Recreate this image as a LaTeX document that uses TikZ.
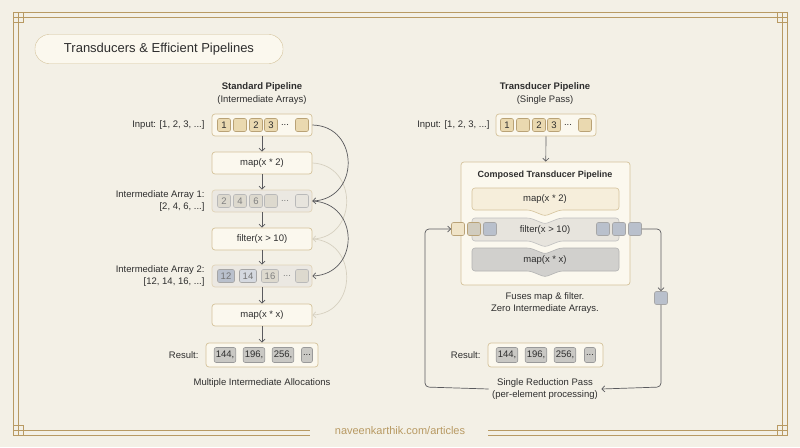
\documentclass[tikz,border=0pt]{standalone}
\usepackage{fontspec}
\setmainfont{Liberation Sans}
\usetikzlibrary{arrows.meta,calc}
\definecolor{bg}{HTML}{F3F0E6}
\definecolor{frame}{HTML}{B89A63}
\definecolor{boxfill}{HTML}{FBF8EE}
\definecolor{boxline}{HTML}{D4C29A}
\definecolor{cellA}{HTML}{EAD9B0}
\definecolor{cellAline}{HTML}{B9A276}
\definecolor{cellG}{HTML}{DDD9CE}
\definecolor{cellB}{HTML}{B9C0CC}
\definecolor{cellR}{HTML}{C9C8C4}
\definecolor{txt}{HTML}{2E2E2E}
\definecolor{arr}{HTML}{5A5A5E}
\definecolor{arrl}{HTML}{D6D0C0}
\tikzset{
 x=1pt,y=-1pt,
 every node/.style={text=txt,font=\fontsize{9.5}{11.5}\selectfont},
 pbox/.style={draw=boxline,fill=boxfill,rounded corners=3pt,line width=0.7pt,minimum width=100pt,minimum height=22pt},
 gbox/.style={draw=boxline!70,fill=cellG!60,rounded corners=3pt,line width=0.7pt,minimum width=100pt,minimum height=22pt},
 cellbox/.style={draw=cellAline,fill=cellA,rounded corners=2pt,minimum size=13pt,inner sep=0pt,line width=0.6pt},
 gcell/.style={draw=gray!55,fill=cellG,rounded corners=2pt,minimum size=13pt,inner sep=0pt,text=gray,line width=0.6pt},
 bcell/.style={draw=gray!70,fill=cellB,rounded corners=2pt,minimum size=13pt,inner sep=0pt,text=gray!90!black,line width=0.6pt},
 rcell/.style={draw=gray!80,fill=cellR,rounded corners=2pt,minimum height=15pt,inner sep=1.5pt,line width=0.6pt},
 lab/.style={anchor=east,align=right},
 dn/.style={-{Straight Barb[length=3pt,width=6pt]},draw=arr,line width=0.7pt},
 ln/.style={draw=arrl,line width=0.7pt,-{Straight Barb[length=3pt,width=6pt]}},
 hd/.style={font=\fontsize{9.5}{11.5}\selectfont\bfseries},
}
\begin{document}
\begin{tikzpicture}
\fill[bg] (0,0) rectangle (800,447);
\useasboundingbox (0,0) rectangle (800,447);
% frame
\draw[frame,line width=0.8pt] (13,12) -- (787,12) (787,12)--(787,435);
\draw[frame,line width=0.8pt] (18,17) -- (782,17) -- (782,430);
\draw[frame,line width=0.8pt] (13,12) -- (13,435) -- (310,435) (488,435) -- (787,435);
\draw[frame,line width=0.8pt] (18,17) -- (18,430) -- (310,430) (488,430) -- (782,430);
\foreach \cx/\cy/\sx/\sy in {13/12/1/1,787/12/-1/1,13/435/1/-1,787/435/-1/-1}
  \draw[frame,line width=0.8pt] (\cx,\cy) rectangle ++(10*\sx,10*\sy) (\cx,\cy) rectangle ++(5*\sx,5*\sy);
\node[text=frame,font=\fontsize{11}{13}\selectfont] (foot) at (400,431) {naveenkarthik.com/articles};
% title
\node[draw=boxline,fill=boxfill,rounded corners=14pt,minimum width=248pt,minimum height=29pt,font=\fontsize{13}{15}\selectfont] (title) at (159,49) {Transducers \& Efficient Pipelines};
%% LEFT
\node[hd] (lh) at (262,87) {Standard Pipeline};
\node (lh2) at (262,100) {(Intermediate Arrays)};
\node[pbox] (lin) at (262,125) {};
\node[cellbox] (li1) at (224,125) {1};
\node[cellbox] (li2) at (240,125) {};
\node[cellbox] (li3) at (256,125) {2};
\node[cellbox] (li4) at (271,125) {3};
\node (li5) at (285,125) {...};
\node[cellbox] (li6) at (302,125) {};
\node[lab] (linl) at (208,125) {Input: [1, 2, 3, ...]};
\node[pbox] (lm1) at (262,163) {map(x * 2)};
\node[gbox] (la1) at (262,201) {};
\node[gcell] (a11) at (224,201) {2};
\node[gcell] (a12) at (240,201) {4};
\node[gcell] (a13) at (256,201) {6};
\node[gcell] (a14) at (271,201) {};
\node[text=gray] (a15) at (285,201) {...};
\node[gcell,fill=cellG!70] (a16) at (302,201) {};
\node[lab] (la1l) at (208,201) {Intermediate Array 1:\\{}[2, 4, 6, ...]};
\node[pbox] (lf) at (262,239) {filter(x > 10)};
\node[gbox] (la2) at (262,276) {};
\node[bcell,minimum width=17pt] (a21) at (226,276) {12};
\node[bcell,minimum width=17pt,fill=cellB!60] (a22) at (248,276) {14};
\node[gcell,minimum width=17pt] (a23) at (270,276) {16};
\node[text=gray] (a24) at (287,276) {...};
\node[gcell] (a25) at (302,276) {};
\node[lab] (la2l) at (208,276) {Intermediate Array 2:\\{}[12, 14, 16, ...]};
\node[pbox] (lm2) at (262,315) {map(x * x)};
\node[pbox,minimum width=112pt,minimum height=24pt] (lres) at (262,355) {};
\node[rcell] (r1) at (225,355) {144,};
\node[rcell] (r2) at (254,355) {196,};
\node[rcell] (r3) at (283,355) {256,};
\node[rcell] (r4) at (307,355) {...};
\node[lab] (lresl) at (202,355) {Result:};
\node (lfoot) at (262,383) {Multiple Intermediate Allocations};
\draw[dn] (lin) -- (lm1); \draw[dn] (lm1) -- (la1); \draw[dn] (la1) -- (lf);
\draw[dn] (lf) -- (la2); \draw[dn] (la2) -- (lm2); \draw[dn] (lm2) -- (lres);
\draw[ln] (lm1.east) .. controls (358,165) and (358,237) .. (lf.east);
\draw[ln] (lf.east) .. controls (358,241) and (358,313) .. (lm2.east);
\draw[dn] (lin.east) .. controls (360,126) and (360,199) .. (la1.east);
\draw[dn] (la1.east) .. controls (360,203) and (360,274) .. (la2.east);
%% RIGHT
\node[hd] (rh) at (545,87) {Transducer Pipeline};
\node (rh2) at (545,100) {(Single Pass)};
\node[pbox] (rin) at (546,125) {};
\node[cellbox] (ri1) at (507,125) {1};
\node[cellbox] (ri2) at (523,125) {};
\node[cellbox] (ri3) at (539,125) {2};
\node[cellbox] (ri4) at (554,125) {3};
\node (ri5) at (568,125) {...};
\node[cellbox] (ri6) at (585,125) {};
\node[lab] (rinl) at (493,125) {Input: [1, 2, 3, ...]};
\node[pbox,minimum width=169pt,minimum height=123pt] (comp) at (545.5,223.5) {};
\node[hd,font=\fontsize{9}{11}\selectfont\bfseries] (ct) at (545,175) {Composed Transducer Pipeline};
\draw[dn] (rin) -- (comp);
% stages with chevron bottoms
\draw[boxline,fill=cellA!45,line width=0.6pt,rounded corners=3pt] (472,188) -- (619,188) -- (619,210) -- (560,210) -- (545,216) -- (530,210) -- (472,210) -- cycle;
\node (s1) at (545,199) {map(x * 2)};
\draw[gray!50,fill=cellG!70,line width=0.6pt,rounded corners=3pt] (472,218) -- (530,218) -- (545,224) -- (560,218) -- (619,218) -- (619,241) -- (560,241) -- (545,247) -- (530,241) -- (472,241) -- cycle;
\node (s2) at (545,230) {filter(x > 10)};
\draw[gray!60,fill=cellR!85,line width=0.6pt,rounded corners=3pt] (472,248) -- (530,248) -- (545,254) -- (560,248) -- (619,248) -- (619,271) -- (560,271) -- (545,277) -- (530,271) -- (472,271) -- cycle;
\node (s3) at (545,260) {map(x * x)};
\node[cellbox,fill=cellA!70] (c1) at (458,229) {};
\node[cellbox,fill=cellA!50!cellB] (c2) at (474,229) {};
\node[bcell] (c3) at (490,229) {};
\node[bcell] (c4) at (603,229) {};
\node[bcell] (c5) at (619,229) {};
\node[bcell] (c6) at (635,229) {};
\node[bcell] (c7) at (661,298) {};
\node (fu) at (545,303) [align=center] {Fuses map \& filter.\\Zero Intermediate Arrays.};
\node[pbox,minimum width=115pt,minimum height=24pt] (rres) at (545.5,355) {};
\node[rcell] (q1) at (507,355) {144,};
\node[rcell] (q2) at (536,355) {196,};
\node[rcell] (q3) at (565,355) {256,};
\node[rcell] (q4) at (590,355) {...};
\node[lab] (rresl) at (484,355) {Result:};
\node[align=center] (srp) at (545,389) {Single Reduction Pass\\(per-element processing)};
\coordinate (k1) at (661,229);
\coordinate (k2) at (661,387);
\coordinate (k3) at (425,387);
\coordinate (k4) at (425,229);
\draw[dn,rounded corners=4pt] (c6.east) -- (k1) -- (c7.north);
\draw[dn,rounded corners=4pt] (c7.south) -- (k2) -- (srp.east);
\draw[dn,rounded corners=4pt] (srp.west) -- (k3) -- (k4) -- (c1.west);
\end{tikzpicture}
\end{document}
